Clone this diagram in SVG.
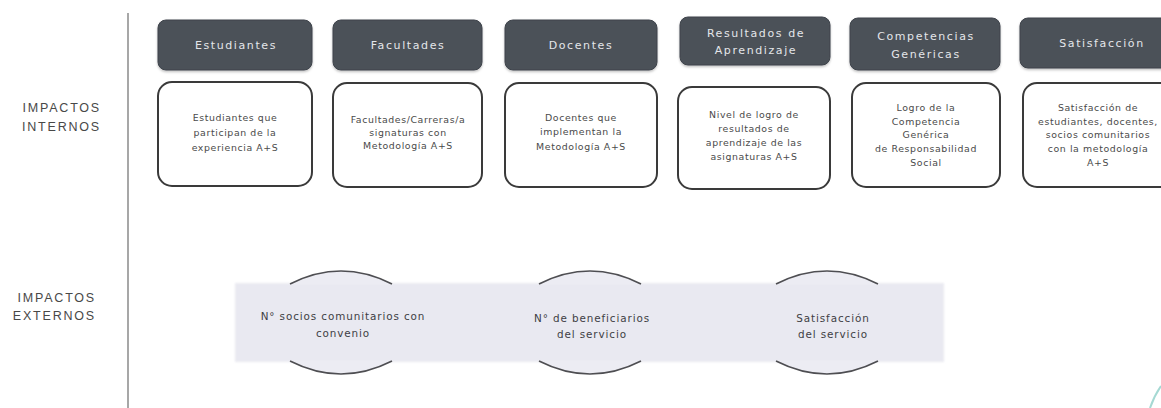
<svg xmlns="http://www.w3.org/2000/svg" width="1161" height="408" viewBox="0 0 1161 408">
  <style>
    .hdr { fill: #4b5159; stroke: #3e434a; stroke-width: 1; }
    .hdrt { font-family: "DejaVu Sans", "Liberation Sans", sans-serif; font-size: 11px; fill: #e4e6ea; text-anchor: middle; letter-spacing: 1.6px; }
    .box { fill: #ffffff; stroke: #3a3a3a; stroke-width: 2; }
    .boxt { font-family: "DejaVu Sans", "Liberation Sans", sans-serif; font-size: 9.4px; fill: #4a4a4a; text-anchor: middle; letter-spacing: 0.6px; }
    .side { font-family: "Liberation Sans", "DejaVu Sans", sans-serif; font-size: 12.5px; fill: #484848; text-anchor: end; letter-spacing: 1.8px; }
    .band { fill: #e9e9f1; }
    .cap { fill: #ececf3; stroke: none; }
    .arc { fill: none; stroke: #4e4e52; stroke-width: 1.6; }
    .ct { font-family: "DejaVu Sans", "Liberation Sans", sans-serif; font-size: 10.4px; fill: #3e3e44; text-anchor: middle; letter-spacing: 0.9px; }
  </style>
  <defs>
    <filter id="sh" x="-10%" y="-10%" width="120%" height="130%">
      <feDropShadow dx="0" dy="1.5" stdDeviation="1.2" flood-color="#000" flood-opacity="0.25"/>
    </filter>
    <filter id="soft" x="-5%" y="-10%" width="110%" height="120%">
      <feGaussianBlur stdDeviation="1.2"/>
    </filter>
  </defs>
  <rect width="1161" height="408" fill="#ffffff"/>

  <g id="divider">
    <line x1="128" y1="13" x2="128" y2="408" stroke="#8a8a8a" stroke-width="1.5"/>
  </g>

  <g id="label-internos">
    <text class="side" x="101" y="112">IMPACTOS</text>
    <text class="side" x="101" y="131">INTERNOS</text>
  </g>
  <g id="label-externos">
    <text class="side" x="96" y="302">IMPACTOS</text>
    <text class="side" x="96" y="320">EXTERNOS</text>
  </g>

  <!-- Header nodes -->
  <g id="hdr-estudiantes">
    <rect class="hdr" x="158" y="20" width="154" height="50" rx="8" filter="url(#sh)"/>
    <text class="hdrt" x="236" y="49">Estudiantes</text>
  </g>
  <g id="hdr-facultades">
    <rect class="hdr" x="333" y="20" width="149" height="50" rx="8" filter="url(#sh)"/>
    <text class="hdrt" x="408" y="49">Facultades</text>
  </g>
  <g id="hdr-docentes">
    <rect class="hdr" x="505" y="20" width="152" height="50" rx="8" filter="url(#sh)"/>
    <text class="hdrt" x="581" y="49" letter-spacing="2.4">Docentes</text>
  </g>
  <g id="hdr-resultados">
    <rect class="hdr" x="680" y="17" width="150" height="48" rx="8" filter="url(#sh)"/>
    <text class="hdrt" x="756" y="37">Resultados de</text>
    <text class="hdrt" x="756" y="54">Aprendizaje</text>
  </g>
  <g id="hdr-competencias">
    <rect class="hdr" x="850" y="18" width="150" height="52" rx="8" filter="url(#sh)"/>
    <text class="hdrt" x="926" y="40" letter-spacing="2.6">Competencias</text>
    <text class="hdrt" x="926" y="58" letter-spacing="2.6">Genéricas</text>
  </g>
  <g id="hdr-satisfaccion">
    <rect class="hdr" x="1020" y="18" width="160" height="50" rx="8" filter="url(#sh)"/>
    <text class="hdrt" x="1102" y="47">Satisfacción</text>
  </g>

  <!-- Content nodes -->
  <g id="box-estudiantes">
    <rect class="box" x="158" y="82" width="154" height="104" rx="14"/>
    <text class="boxt" x="235" y="121">Estudiantes que</text>
    <text class="boxt" x="235" y="136">participan de la</text>
    <text class="boxt" x="235" y="151">experiencia A+S</text>
  </g>
  <g id="box-facultades">
    <rect class="box" x="333" y="83" width="149" height="104" rx="14"/>
    <text class="boxt" x="408" y="123" letter-spacing="0">Facultades/Carreras/a</text>
    <text class="boxt" x="408" y="136">signaturas con</text>
    <text class="boxt" x="408" y="149">Metodología A+S</text>
  </g>
  <g id="box-docentes">
    <rect class="box" x="505" y="83" width="152" height="104" rx="14"/>
    <text class="boxt" x="581" y="121">Docentes que</text>
    <text class="boxt" x="581" y="135">implementan la</text>
    <text class="boxt" x="581" y="150">Metodología A+S</text>
  </g>
  <g id="box-resultados">
    <rect class="box" x="678" y="87" width="152" height="102" rx="14"/>
    <text class="boxt" x="754" y="118">Nivel de logro de</text>
    <text class="boxt" x="754" y="132">resultados de</text>
    <text class="boxt" x="754" y="146">aprendizaje de las</text>
    <text class="boxt" x="754" y="160">asignaturas A+S</text>
  </g>
  <g id="box-competencias">
    <rect class="box" x="852" y="83" width="148" height="104" rx="14"/>
    <text class="boxt" x="926" y="111">Logro de la</text>
    <text class="boxt" x="926" y="125">Competencia</text>
    <text class="boxt" x="926" y="138">Genérica</text>
    <text class="boxt" x="926" y="152" letter-spacing="0.3">de Responsabilidad</text>
    <text class="boxt" x="926" y="166">Social</text>
  </g>
  <g id="box-satisfaccion">
    <rect class="box" x="1023" y="83" width="160" height="104" rx="14"/>
    <text class="boxt" x="1098" y="111">Satisfacción de</text>
    <text class="boxt" x="1098" y="125" letter-spacing="0.2">estudiantes, docentes,</text>
    <text class="boxt" x="1098" y="138">socios comunitarios</text>
    <text class="boxt" x="1098" y="152">con la metodología</text>
    <text class="boxt" x="1098" y="166">A+S</text>
  </g>

  <!-- External impacts band -->
  <g id="band">
    <rect class="band" x="235" y="283" width="709" height="79" filter="url(#soft)"/>
  </g>

  <g id="ext-socios">
    <path class="cap" d="M290,284 Q341,258 392,284 Z M290,361 Q341,387 392,361 Z"/>
    <path class="arc" d="M290,284 Q341,258 392,284"/>
    <path class="arc" d="M290,361 Q341,387 392,361"/>
    <text class="ct" x="343" y="320">N° socios comunitarios con</text>
    <text class="ct" x="343" y="337">convenio</text>
  </g>
  <g id="ext-beneficiarios">
    <path class="cap" d="M539,284 Q590,258 641,284 Z M539,361 Q590,387 641,361 Z"/>
    <path class="arc" d="M539,284 Q590,258 641,284"/>
    <path class="arc" d="M539,361 Q590,387 641,361"/>
    <text class="ct" x="592" y="322">N° de beneficiarios</text>
    <text class="ct" x="592" y="338">del servicio</text>
  </g>
  <g id="ext-satisfaccion">
    <path class="cap" d="M776,284 Q827,258 878,284 Z M776,361 Q827,387 878,361 Z"/>
    <path class="arc" d="M776,284 Q827,258 878,284"/>
    <path class="arc" d="M776,361 Q827,387 878,361"/>
    <text class="ct" x="833" y="322">Satisfacción</text>
    <text class="ct" x="833" y="338">del servicio</text>
  </g>

  <g id="connectors"></g>

  <path d="M1150,408 Q1154,396 1161,386" fill="none" stroke="#8fd0c8" stroke-width="2" opacity="0.8"/>
</svg>
